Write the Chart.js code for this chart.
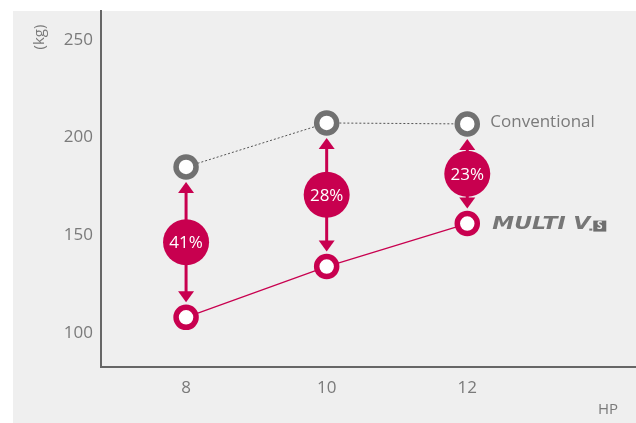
<!DOCTYPE html>
<html>
<head>
<meta charset="utf-8">
<script src="https://cdn.jsdelivr.net/npm/chart.js@4.4.0/dist/chart.umd.min.js"></script>
<style>
  html, body { margin: 0; padding: 0; background: #fff; }
  #wrap { width: 636px; height: 423px; position: relative; }
</style>
</head>
<body>
<div id="wrap"><canvas id="weightChart"></canvas></div>
<script>
const categories = [8, 10, 12];
const conventional = [185, 207.5, 207];
const multiV = [108, 134, 156];
const reductionLabels = ['41%', '28%', '23%'];
const yTicks = [100, 150, 200, 250];

const MAGENTA = '#c8004f';
const GREY = '#717171';
const TEXT = '#7a7a7a';
const FONT = "'Open Sans', sans-serif";

// gray panel, arrows, percentage badges and series labels
const decor = {
  id: 'decor',
  beforeDraw(chart) {
    const ctx = chart.ctx;
    ctx.save();
    ctx.fillStyle = '#efefef';
    ctx.fillRect(13, 11, chart.width - 13, chart.height - 11);
    ctx.restore();
  },
  afterDatasetsDraw(chart) {
    const ctx = chart.ctx;
    const top = chart.getDatasetMeta(0).data;
    const bot = chart.getDatasetMeta(1).data;
    ctx.save();
    top.forEach((pt, i) => {
      const x = pt.x, y1 = pt.y, y2 = bot[i].y;
      const mid = (y1 + y2) / 2;
      ctx.fillStyle = MAGENTA;
      ctx.strokeStyle = MAGENTA;
      ctx.lineWidth = 3;
      // shaft
      ctx.beginPath();
      ctx.moveTo(x, y1 + 21);
      ctx.lineTo(x, y2 - 21);
      ctx.stroke();
      // heads
      ctx.beginPath();
      ctx.moveTo(x, y1 + 15);
      ctx.lineTo(x - 8, y1 + 26);
      ctx.lineTo(x + 8, y1 + 26);
      ctx.closePath();
      ctx.fill();
      ctx.beginPath();
      ctx.moveTo(x, y2 - 15);
      ctx.lineTo(x - 8, y2 - 26);
      ctx.lineTo(x + 8, y2 - 26);
      ctx.closePath();
      ctx.fill();
      // badge
      ctx.beginPath();
      ctx.arc(x, mid, 23, 0, Math.PI * 2);
      ctx.fill();
      ctx.fillStyle = '#fff';
      ctx.font = '17px ' + FONT;
      ctx.textAlign = 'center';
      ctx.textBaseline = 'middle';
      ctx.fillText(reductionLabels[i], x, mid + 1);
    });

    // series names beside the last points
    const lc = top[top.length - 1], lm = bot[bot.length - 1];
    ctx.fillStyle = TEXT;
    ctx.font = '17px ' + FONT;
    ctx.textAlign = 'left';
    ctx.textBaseline = 'middle';
    ctx.fillText('Conventional', lc.x + 23, lc.y - 2);

    // MULTI V S wordmark
    ctx.save();
    const lx = lm.x + 25;
    ctx.font = "italic bold 18px 'DejaVu Sans', sans-serif";
    const w0 = ctx.measureText('MULTI V').width;
    ctx.translate(lx, lm.y + 1);
    ctx.scale(98 / w0, 1);
    ctx.fillStyle = '#767676';
    ctx.fillText('MULTI V', 0, 0);
    ctx.restore();
    const w = 98;
    ctx.fillStyle = '#767676';
    ctx.fillRect(lx + w - 1, lm.y + 5, 3, 2);
    ctx.fillStyle = '#6e6e6e';
    ctx.fillRect(lx + w + 3, lm.y - 3, 13, 11);
    ctx.fillStyle = '#efefef';
    ctx.font = 'bold 10px ' + FONT;
    ctx.textAlign = 'center';
    ctx.fillText('S', lx + w + 9.5, lm.y + 3);

    // axis titles
    ctx.fillStyle = TEXT;
    ctx.font = '15px ' + FONT;
    ctx.textAlign = 'center';
    ctx.fillText('HP', 608, 410);
    ctx.translate(40, 37);
    ctx.rotate(-Math.PI / 2);
    ctx.fillText('(kg)', 0, 0);
    ctx.restore();
  }
};

new Chart(document.getElementById('weightChart'), {
  type: 'line',
  data: {
    datasets: [
      {
        label: 'Conventional',
        data: categories.map((c, i) => ({ x: c, y: conventional[i] })),
        borderColor: '#555',
        borderWidth: 1,
        borderDash: [2, 2],
        pointRadius: 10,
        pointBorderWidth: 5.5,
        pointBorderColor: GREY,
        pointBackgroundColor: '#fff',
        tension: 0
      },
      {
        label: 'MULTI V S',
        data: categories.map((c, i) => ({ x: c, y: multiV[i] })),
        borderColor: MAGENTA,
        borderWidth: 1.2,
        pointRadius: 10,
        pointBorderWidth: 5.5,
        pointBorderColor: MAGENTA,
        pointBackgroundColor: '#fff',
        tension: 0
      }
    ]
  },
  options: {
    responsive: true,
    maintainAspectRatio: false,
    animation: false,
    layout: { autoPadding: false, padding: { left: 0, top: 11, right: 0, bottom: 0 } },
    plugins: {
      legend: { display: false },
      tooltip: { enabled: false }
    },
    scales: {
      x: {
        type: 'linear',
        min: 6.79,
        max: 14.4,
        afterBuildTicks: s => { s.ticks = categories.map(v => ({ value: v })); },
        afterFit: s => { s.height = 56; s.paddingLeft = 0; s.paddingRight = 0; },
        grid: { display: false, drawTicks: false },
        border: { display: true, color: '#666', width: 2 },
        ticks: { color: TEXT, padding: 11, font: { size: 17, family: FONT } }
      },
      y: {
        min: 82.6,
        max: 264.8,
        afterBuildTicks: s => { s.ticks = yTicks.map(v => ({ value: v })); },
        afterFit: s => { s.width = 101; s.paddingTop = 0; s.paddingBottom = 0; },
        grid: { display: false, drawTicks: false },
        border: { display: true, color: '#666', width: 2 },
        ticks: { color: TEXT, padding: 8, font: { size: 17, family: FONT } }
      }
    }
  },
  plugins: [decor]
});
</script>
</body>
</html>
